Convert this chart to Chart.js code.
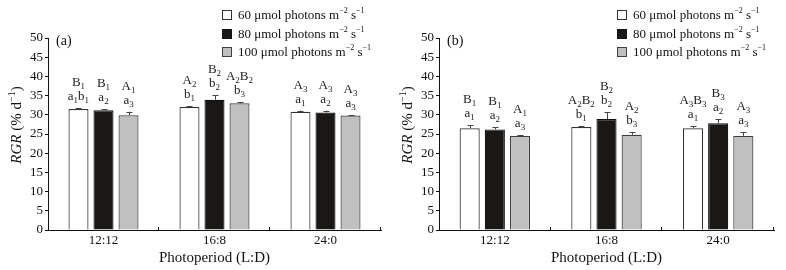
<!DOCTYPE html>
<html>
<head>
<meta charset="utf-8">
<script src="https://cdn.jsdelivr.net/npm/chart.js@4.4.0/dist/chart.umd.min.js"></script>
<style>
    html, body { margin: 0; padding: 0; background: #fff; }
    #wrap { position: relative; width: 786px; height: 270px; }
    #wrap canvas { position: absolute; top: 0; }
</style>
</head>
<body>
<div id="wrap">
    <canvas id="chartA" width="393" height="270" style="left:0"></canvas>
    <canvas id="chartB" width="393" height="270" style="left:393px"></canvas>
</div>
<script>
// photoperiod groups
var categories = ['12:12', '16:8', '24:0'];
var lightLevels = ['60', '80', '100'];
var yTicks = [0, 5, 10, 15, 20, 25, 30, 35, 40, 45, 50];

// panel (a)
var rgrA60 = [31.5, 32.0, 30.8];
var rgrA80 = [31.2, 33.9, 30.6];
var rgrA100 = [29.9, 33.0, 29.8];
var errA60 = [0.3, 0.3, 0.3];
var errA80 = [0.2, 1.2, 0.5];
var errA100 = [0.9, 0.3, 0.1];
var letA60 = [['B_1', 'a_1b_1'], ['A_2', 'b_1'], ['A_3', 'a_1']];
var letA80 = [['B_1', 'a_2'], ['B_2', 'b_2'], ['A_3', 'a_2']];
var letA100 = [['A_1', 'a_3'], ['A_2B_2', 'b_3'], ['A_3', 'a_3']];

// panel (b)
var rgrB60 = [26.5, 26.8, 26.5];
var rgrB80 = [26.2, 28.9, 27.8];
var rgrB100 = [24.5, 24.8, 24.5];
var errB60 = [0.8, 0.3, 0.6];
var errB80 = [0.6, 1.7, 1.1];
var errB100 = [0.2, 0.7, 0.9];
var letB60 = [['B_1', 'a_1'], ['A_2B_2', 'b_1'], ['A_3B_3', 'a_1']];
var letB80 = [['B_1', 'a_2'], ['B_2', 'b_2'], ['B_3', 'a_2']];
var letB100 = [['A_1', 'a_3'], ['A_2', 'b_3'], ['A_3', 'a_3']];

var fills = ['#ffffff', '#1a1817', '#c0c0c0'];
var borders = ['#333333', '#111111', '#404040'];
var SERIF = '"Liberation Serif", "Times New Roman", serif';

Chart.defaults.font.family = SERIF;
Chart.defaults.color = '#111';

// draw text like "A_2B_2" with subscripts, centred on cx
function drawSub(ctx, str, cx, base, size) {
    var parts = [];
    var re = /([A-Za-z])(?:_(\d))?/g, m;
    while ((m = re.exec(str)) !== null) {
        parts.push([m[1], 'main']);
        if (m[2]) parts.push([m[2], 'sub']);
    }
    var subSize = Math.round(size * 0.68);
    var w = 0;
    parts.forEach(function (p) {
        ctx.font = (p[1] === 'sub' ? subSize : size) + 'px ' + SERIF;
        p.push(ctx.measureText(p[0]).width);
        w += p[2];
    });
    var x = cx - w / 2;
    ctx.textAlign = 'left';
    ctx.textBaseline = 'alphabetic';
    parts.forEach(function (p) {
        ctx.font = (p[1] === 'sub' ? subSize : size) + 'px ' + SERIF;
        ctx.fillText(p[0], x, p[1] === 'sub' ? base + 3 : base);
        x += p[2];
    });
}

// rich text: parts of [text, style] where style is normal / italic / sup
function drawRich(ctx, parts, x, y, size, center) {
    var supSize = Math.round(size * 0.65);
    var fontOf = function (s) {
        if (s === 'italic') return 'italic ' + size + 'px ' + SERIF;
        if (s === 'sup') return supSize + 'px ' + SERIF;
        return size + 'px ' + SERIF;
    };
    var w = 0;
    parts.forEach(function (p) { ctx.font = fontOf(p[1]); w += ctx.measureText(p[0]).width; });
    if (center) x -= w / 2;
    ctx.textAlign = 'left';
    ctx.textBaseline = 'middle';
    parts.forEach(function (p) {
        ctx.font = fontOf(p[1]);
        ctx.fillText(p[0], x, p[1] === 'sup' ? y - 5 : y);
        x += ctx.measureText(p[0]).width;
    });
}

var extras = {
    id: 'extras',
    afterDatasetsDraw: function (chart, args, opts) {
        var ctx = chart.ctx, yS = chart.scales.y;
        ctx.save();
        chart.data.datasets.forEach(function (ds, di) {
            var meta = chart.getDatasetMeta(di);
            meta.data.forEach(function (bar, i) {
                var top = yS.getPixelForValue(ds.data[i] + opts.errors[di][i]);
                var bx = Math.round(bar.x) + 0.5;
                ctx.strokeStyle = '#444';
                ctx.lineWidth = 1;
                ctx.beginPath();
                ctx.moveTo(bx, bar.y);
                ctx.lineTo(bx, top);
                ctx.moveTo(bx - 3, Math.round(top) + 0.5);
                ctx.lineTo(bx + 3, Math.round(top) + 0.5);
                ctx.stroke();
                ctx.fillStyle = '#222';
                var lab = opts.letters[di][i];
                drawSub(ctx, lab[1], bar.x, top - 8, 13);
                drawSub(ctx, lab[0], bar.x, top - 22, 13);
            });
        });
        ctx.restore();
    },
    afterDraw: function (chart, args, opts) {
        var ctx = chart.ctx, xS = chart.scales.x, area = chart.chartArea;
        ctx.save();
        // inward ticks between groups
        ctx.strokeStyle = '#111';
        ctx.lineWidth = 1;
        var step = (xS.right - xS.left) / categories.length;
        ctx.beginPath();
        for (var i = 1; i <= categories.length; i++) {
            var tx = Math.round(xS.left + step * i) - 0.5;
            ctx.moveTo(tx, area.bottom);
            ctx.lineTo(tx, area.bottom - 3);
        }
        ctx.stroke();

        // panel tag
        ctx.fillStyle = '#111';
        ctx.font = '14px ' + SERIF;
        ctx.textBaseline = 'middle';
        ctx.textAlign = 'left';
        ctx.fillText(opts.tag, area.left + 8, 41);

        // y title
        ctx.save();
        ctx.translate(opts.titleX, 125);
        ctx.rotate(-Math.PI / 2);
        drawRich(ctx, [['RGR', 'italic'], [' (% d', 'normal'], ['\u22121', 'sup'], [')', 'normal']], 0, 0, 15, true);
        ctx.restore();

        // legend
        var rows = [15, 34, 52];
        lightLevels.forEach(function (lv, k) {
            ctx.fillStyle = fills[k];
            ctx.fillRect(opts.legendX + 0.5, rows[k] - 4.5, 9, 9);
            ctx.strokeStyle = borders[k];
            ctx.lineWidth = 1;
            ctx.strokeRect(opts.legendX + 0.5, rows[k] - 4.5, 9, 9);
            ctx.fillStyle = '#111';
            drawRich(ctx, [[lv + ' \u03bcmol photons m', 'normal'], ['\u22122', 'sup'], [' s', 'normal'], ['\u22121', 'sup']],
                opts.legendX + 16, rows[k] + 1, 13, false);
        });
        ctx.restore();
    }
};

function makeChart(id, tag, series, errors, letters, yWidth, titleX, legendX) {
    return new Chart(document.getElementById(id), {
        type: 'bar',
        data: {
            labels: categories,
            datasets: series.map(function (vals, k) {
                return {
                    label: lightLevels[k],
                    data: vals,
                    backgroundColor: fills[k],
                    borderColor: borders[k],
                    borderWidth: 1.2,
                    borderSkipped: 'bottom',
                    barPercentage: 0.8,
                    categoryPercentage: 0.676
                };
            })
        },
        options: {
            responsive: false,
            animation: false,
            devicePixelRatio: 1,
            layout: { padding: { top: 38, right: 12, bottom: 0, left: 0 } },
            plugins: {
                legend: { display: false },
                tooltip: { enabled: false },
                extras: { tag: tag, errors: errors, letters: letters, titleX: titleX, legendX: legendX }
            },
            scales: {
                x: {
                    grid: { display: false, drawTicks: false, tickLength: 0 },
                    border: { display: true, color: '#111', width: 1 },
                    ticks: { color: '#111', font: { size: 13 }, padding: 3 },
                    title: { display: true, text: 'Photoperiod (L:D)', color: '#111', font: { size: 15 }, padding: { top: 0, bottom: 3 } },
                    afterFit: function (s) { s.height = 40; }
                },
                y: {
                    min: 0,
                    max: 50,
                    afterBuildTicks: function (s) { s.ticks = yTicks.map(function (v) { return { value: v }; }); },
                    grid: { display: true, drawOnChartArea: false, drawTicks: true, tickLength: 3, color: '#111' },
                    border: { display: true, color: '#111', width: 1 },
                    ticks: { color: '#111', font: { size: 13 }, padding: 2 },
                    afterFit: function (s) { s.width = yWidth; }
                }
            }
        },
        plugins: [extras]
    });
}

makeChart('chartA', '(a)', [rgrA60, rgrA80, rgrA100], [errA60, errA80, errA100], [letA60, letA80, letA100], 48, 17, 222);
makeChart('chartB', '(b)', [rgrB60, rgrB80, rgrB100], [errB60, errB80, errB100], [letB60, letB80, letB100], 46, 15, 224);
</script>
</body>
</html>
